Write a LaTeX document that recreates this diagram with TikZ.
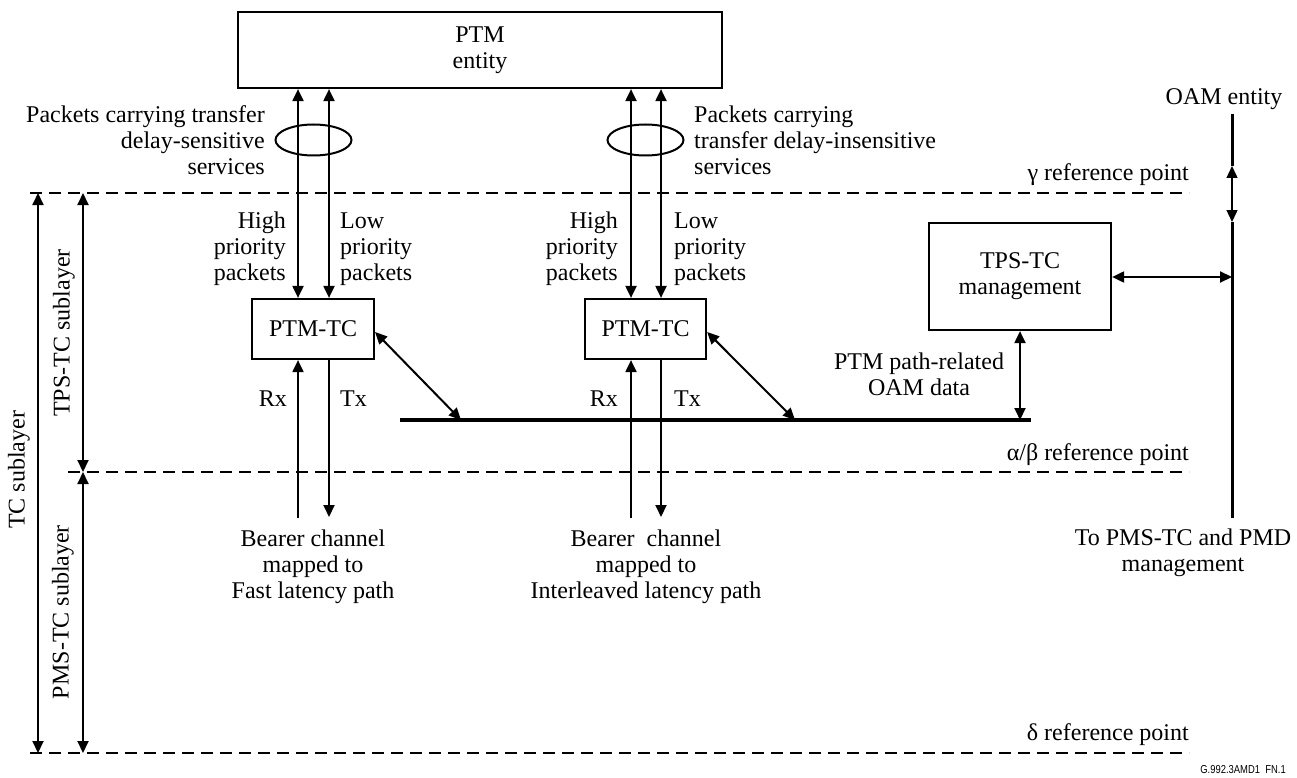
\documentclass[tikz,border=0pt]{standalone}
\usepackage{fontspec}
\setmainfont{Liberation Serif}
\newfontfamily\sansf{Liberation Sans}
\usetikzlibrary{arrows.meta,shapes.geometric}
\begin{document}
\begin{tikzpicture}[x=1pt,y=-1pt,
  lbl/.style={inner sep=0pt, font=\fontsize{24}{26}\selectfont},
  box/.style={draw, line width=2.2pt, inner sep=0pt, align=center, font=\fontsize{24}{26}\selectfont},
  conn/.style={line width=2pt},
  arr/.style={conn, -{Triangle[length=12pt,width=11pt]}},
  darr/.style={conn, {Triangle[length=12pt,width=11pt]}-{Triangle[length=12pt,width=11pt]}},
  refline/.style={line width=2.2pt, dash pattern=on 12pt off 7pt},
  bundle/.style={draw, ellipse, line width=2pt, minimum width=76pt, minimum height=31pt, inner sep=0pt},
  bus/.style={line width=4pt},
  oamline/.style={line width=3pt},
]
\useasboundingbox (0,0) rectangle (1297,778);

% boxes
\node[box, minimum width=484pt, minimum height=76pt] (ptm) at (480,50) {PTM\\entity};
\node[box, minimum width=122pt, minimum height=60pt] (tc1) at (313,329) {PTM-TC};
\node[box, minimum width=121pt, minimum height=60pt] (tc2) at (645.5,329) {PTM-TC};
\node[box, minimum width=182pt, minimum height=107pt] (mgmt) at (1020,276.5) {TPS-TC\\management};

% ellipses
\node[bundle] (e1) at (313.5,140) {};
\node[bundle] (e2) at (645.5,140) {};

% x positions of vertical connectors
\coordinate (h1) at (298,0);
\coordinate (l1) at (329,0);
\coordinate (h2) at (631,0);
\coordinate (l2) at (661,0);

% PTM entity <-> PTM-TC
\draw[darr] (h1 |- ptm.south) -- (h1 |- tc1.north);
\draw[darr] (l1 |- ptm.south) -- (l1 |- tc1.north);
\draw[darr] (h2 |- ptm.south) -- (h2 |- tc2.north);
\draw[darr] (l2 |- ptm.south) -- (l2 |- tc2.north);

% Rx / Tx
\coordinate (rx1) at (298,518);
\coordinate (tx1) at (329,517);
\coordinate (rx2) at (631,518);
\coordinate (tx2) at (661,517);
\draw[arr] (rx1) -- (rx1 |- tc1.south);
\draw[arr] (tx1 |- tc1.south) -- (tx1);
\draw[arr] (rx2) -- (rx2 |- tc2.south);
\draw[arr] (tx2 |- tc2.south) -- (tx2);

% bus
\coordinate (busL) at (400,420);
\coordinate (busR) at (1031,420);
\coordinate (b1) at (461,420);
\coordinate (b2) at (795,420);
\draw[bus] (busL) -- (busR);
\draw[darr] ([yshift=-3pt]tc1.east) -- (b1);
\draw[darr] ([yshift=-3pt]tc2.east) -- (b2);
\draw[darr] (mgmt.south) -- (mgmt.south |- busL);

% OAM line
\coordinate (oamTop) at (1232,114);
\coordinate (oamA) at (1232,166);
\coordinate (oamB) at (1232,222);
\coordinate (oamBot) at (1232,518);
\draw[oamline] (oamTop) -- (oamA);
\draw[darr, line width=1.4pt] (oamA) -- (oamB);
\draw[oamline] (oamB) -- (oamBot);
\draw[darr] ([yshift=-0.5pt]mgmt.east) -- ([yshift=-0.5pt]mgmt.east -| oamTop);

% reference lines
\coordinate (gL) at (30,193);
\coordinate (gR) at (1189,193);
\coordinate (abL) at (68,472);
\coordinate (abR) at (1189,472);
\coordinate (dL) at (30,753);
\coordinate (dR) at (1189,753);
\draw[refline] (gL) -- (gR);
\draw[refline] (abL) -- (abR);
\draw[refline] (dL) -- (dR);

% sublayer arrows
\coordinate (tcT) at (38,193);
\coordinate (tcB) at (38,753);
\coordinate (tpsT) at (83,193);
\coordinate (tpsM) at (83,472);
\coordinate (tpsB) at (83,753);
\draw[darr] (tcT) -- (tcB);
\draw[darr] (tpsT) -- (tpsM);
\draw[darr] (tpsM) -- (tpsB);

% rotated labels
\node[lbl, rotate=90] (tcs) at (19,470) {TC sublayer};
\node[lbl, rotate=90] (tpss) at (64,333) {TPS-TC sublayer};
\node[lbl, rotate=90] (pmss) at (63,612) {PMS-TC sublayer};

% labels (base anchor = baseline of last line)
\node[lbl, anchor=base east, align=right] (ls) at (265,175) {Packets carrying transfer\\delay-sensitive\\services};
\node[lbl, anchor=base west, align=left] (li) at (694,175) {Packets carrying\\transfer delay-insensitive\\services};
\node[lbl, anchor=base east, align=right] (hp1) at (286,280) {High\\priority\\packets};
\node[lbl, anchor=base west, align=left] (lp1) at (340,280) {Low\\priority\\packets};
\node[lbl, anchor=base east, align=right] (hp2) at (618,280) {High\\priority\\packets};
\node[lbl, anchor=base west, align=left] (lp2) at (674,280) {Low\\priority\\packets};
\node[lbl, anchor=base east] (rxl1) at (287,406) {Rx};
\node[lbl, anchor=base west] (txl1) at (340,406) {Tx};
\node[lbl, anchor=base east] (rxl2) at (618,406) {Rx};
\node[lbl, anchor=base west] (txl2) at (674,406) {Tx};
\node[lbl, anchor=base, align=center] (pathoam) at (919,395) {PTM path-related\\OAM data};
\node[lbl, anchor=base] (oament) at (1224,105) {OAM entity};
\node[lbl, anchor=base east] (gam) at (1189,180) {γ reference point};
\node[lbl, anchor=base east] (alb) at (1189,460) {α/β reference point};
\node[lbl, anchor=base east] (del) at (1189,740) {δ reference point};
\node[lbl, anchor=base, align=center] (bc1) at (313,598) {Bearer channel\\mapped to\\Fast latency path};
\node[lbl, anchor=base, align=center] (bc2) at (646,598) {Bearer\ \ channel\\mapped to\\Interleaved latency path};
\node[lbl, anchor=base, align=center] (topms) at (1183,571) {To PMS-TC and PMD\\management};
\node[inner sep=0pt, anchor=base east, font=\sansf\fontsize{11.5}{13}\selectfont] (fig) at (1286,773) {\scalebox{0.82}[1]{G.992.3AMD1\ \ FN.1}};
\end{tikzpicture}
\end{document}
